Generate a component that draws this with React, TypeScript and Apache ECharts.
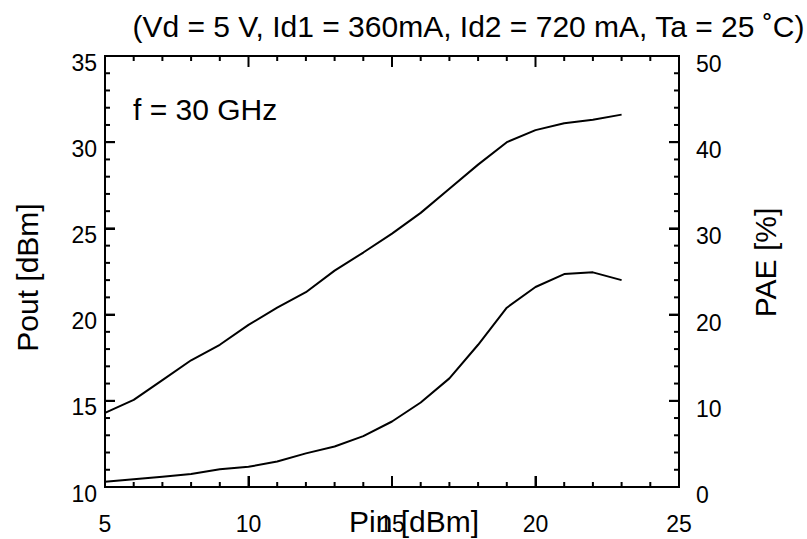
import React, { useEffect, useRef } from "react";
import * as echarts from "echarts";

const pin = [5, 6, 7, 8, 9, 10, 11, 12, 13, 14, 15, 16, 17, 18, 19, 20, 21, 22, 23];
const pout = [14.3, 15.05, 16.2, 17.35, 18.25, 19.4, 20.4, 21.3, 22.55, 23.6, 24.7, 25.9, 27.3, 28.7, 30.0, 30.7, 31.1, 31.3, 31.6];
const pae = [0.6, 0.9, 1.2, 1.5, 2.05, 2.35, 2.95, 3.9, 4.7, 5.9, 7.6, 9.8, 12.6, 16.5, 20.8, 23.2, 24.7, 24.9, 24.0];

const xTicks = [5, 6, 7, 8, 9, 10, 11, 12, 13, 14, 15, 16, 17, 18, 19, 20, 21, 22, 23, 24, 25];
const yLeftTicks = [10, 11, 12, 13, 14, 15, 16, 17, 18, 19, 20, 21, 22, 23, 24, 25, 26, 27, 28, 29, 30, 31, 32, 33, 34, 35];
const yRightTicks = [0, 2, 4, 6, 8, 10, 12, 14, 16, 18, 20, 22, 24, 26, 28, 30, 32, 34, 36, 38, 40, 42, 44, 46, 48, 50];

const titleText = "(Vd = 5 V, Id1 = 360mA, Id2 = 720 mA, Ta = 25 \u02DAC)";
const noteText = "f = 30 GHz";
const xName = "Pin [dBm]";
const yLeftName = "Pout [dBm]";
const yRightName = "PAE [%]";

const FONT = "'Liberation Sans', Arial, Helvetica, sans-serif";
const X_MIN = 5, X_MAX = 25, YL_MIN = 10, YL_MAX = 35, YR_MIN = 0, YR_MAX = 50;

function ls() {
  return { color: "#000000", width: 2 };
}
function axisParts(len: number) {
  return {
    axisLine: { show: true, onZero: false, lineStyle: ls() },
    axisTick: { show: true, inside: true, length: len, lineStyle: ls() },
    splitLine: { show: false },
  };
}
const FILL = { fill: "#000", stroke: "none" as any, lineWidth: 0 };
function bar(x: number, y: number, w: number, h: number) {
  return { type: "rect", shape: { x, y, width: w, height: h }, style: FILL };
}

export default function App() {
  const ref = useRef<HTMLDivElement>(null);
  useEffect(() => {
    if (!ref.current) return;
    const chart = echarts.init(ref.current, undefined, { renderer: "svg" });
    const blackLine = { color: "#000", width: 2 };
    chart.setOption({
      animation: false,
      title: {
        text: titleText,
        right: 2,
        top: 11,
        padding: 0,
        textStyle: { fontSize: 30, fontWeight: "normal", color: "#000", fontFamily: FONT },
      },
      grid: { left: 105, right: 128, top: 56, bottom: 52, containLabel: false, outerBoundsMode: "none" },
      graphic: [
        {
          type: "text",
          left: 133,
          top: 94,
          style: { text: noteText, fontSize: 30, fill: "#000", fontFamily: FONT },
        },
      ],
      xAxis: [
        {
          type: "value",
          min: X_MIN,
          max: X_MAX,
          interval: 5,
          position: "bottom",
          ...axisParts(11),
          name: xName,
          nameLocation: "middle",
          nameGap: 19,
          nameMoveOverlap: false,
          nameTextStyle: { fontSize: 30, color: "#000", fontFamily: FONT, padding: [0, 0, 0, 44] },
          axisLabel: { show: true, margin: 25, fontSize: 23, color: "#000", fontFamily: FONT },
        },
      ],
      yAxis: [
        {
          type: "value",
          min: YL_MIN,
          max: YL_MAX,
          interval: 5,
          position: "left",
          ...axisParts(10),
          name: yLeftName,
          nameLocation: "middle",
          nameGap: 63,
          nameMoveOverlap: false,
          nameTextStyle: { fontSize: 30, color: "#000", fontFamily: FONT, padding: [0, 12, 0, 0] },
          axisLabel: { margin: 8, fontSize: 23, color: "#000", fontFamily: FONT, verticalAlign: "top", lineHeight: 13 },
        },
        {
          type: "value",
          min: YR_MIN,
          max: YR_MAX,
          interval: 10,
          position: "right",
          ...axisParts(10),
          name: yRightName,
          nameLocation: "middle",
          nameGap: 71,
          nameMoveOverlap: false,
          nameTextStyle: { fontSize: 30, color: "#000", fontFamily: FONT, padding: [0, 0, 0, 18] },
          axisLabel: { margin: 17, fontSize: 23, color: "#000", fontFamily: FONT, verticalAlign: "top", lineHeight: 16 },
        },
      ],
      series: [
        {
          name: "Pout",
          type: "line",
          xAxisIndex: 0,
          yAxisIndex: 0,
          data: pin.map((x, i) => [x, pout[i]]),
          showSymbol: false,
          lineStyle: blackLine,
          itemStyle: { color: "#000" },
          z: 3,
        },
        {
          name: "PAE",
          type: "line",
          xAxisIndex: 0,
          yAxisIndex: 1,
          data: pin.map((x, i) => [x, pae[i]]),
          showSymbol: false,
          lineStyle: blackLine,
          itemStyle: { color: "#000" },
          z: 3,
        },
        {
          name: "frame",
          type: "custom",
          xAxisIndex: 0,
          yAxisIndex: 0,
          clip: false,
          z: 4,
          data: [[X_MIN, YL_MIN]],
          renderItem: (_p: any, api: any) => {
            const a = api.coord([X_MIN, YL_MAX]);
            const b = api.coord([X_MAX, YL_MIN]);
            const x0 = a[0], y0 = a[1], x1 = b[0], y1 = b[1];
            return {
              type: "group",
              children: [
                bar(x0 - 1, y0 - 1, x1 - x0 + 2, 2),
                bar(x0 - 1, y1 - 1, x1 - x0 + 2, 2),
                bar(x0 - 1, y0 - 1, 2, y1 - y0 + 2),
                bar(x1 - 1, y0 - 1, 2, y1 - y0 + 2),
              ],
            };
          },
        },
        {
          name: "xTicks",
          type: "custom",
          xAxisIndex: 0,
          yAxisIndex: 0,
          clip: false,
          z: 4,
          data: xTicks.map((v) => [v, YL_MIN]),
          renderItem: (_p: any, api: any) => {
            const v = api.value(0);
            const len = v % 5 === 0 ? 11 : 5;
            const b = api.coord([v, YL_MIN]);
            const t = api.coord([v, YL_MAX]);
            return {
              type: "group",
              children: [bar(b[0] - 1, b[1] - len, 2, len), bar(t[0] - 1, t[1], 2, len)],
            };
          },
        },
        {
          name: "yLeftTicks",
          type: "custom",
          xAxisIndex: 0,
          yAxisIndex: 0,
          clip: false,
          z: 4,
          data: yLeftTicks.map((v) => [X_MIN, v]),
          renderItem: (_p: any, api: any) => {
            const v = api.value(1);
            const len = v % 5 === 0 ? 10 : 5;
            const p = api.coord([X_MIN, v]);
            return bar(p[0], p[1] - 1, len, 2);
          },
        },
        {
          name: "yRightTicks",
          type: "custom",
          xAxisIndex: 0,
          yAxisIndex: 1,
          clip: false,
          z: 4,
          data: yRightTicks.map((v) => [X_MAX, v]),
          renderItem: (_p: any, api: any) => {
            const v = api.value(1);
            const len = v % 10 === 0 ? 10 : 5;
            const p = api.coord([X_MAX, v]);
            return bar(p[0] - len, p[1] - 1, len, 2);
          },
        },
      ],
    });
    return () => chart.dispose();
  }, []);
  return <div ref={ref} style={{ width: 807, height: 539, position: "absolute", left: 0, top: 0, background: "#fff" }} />;
}
